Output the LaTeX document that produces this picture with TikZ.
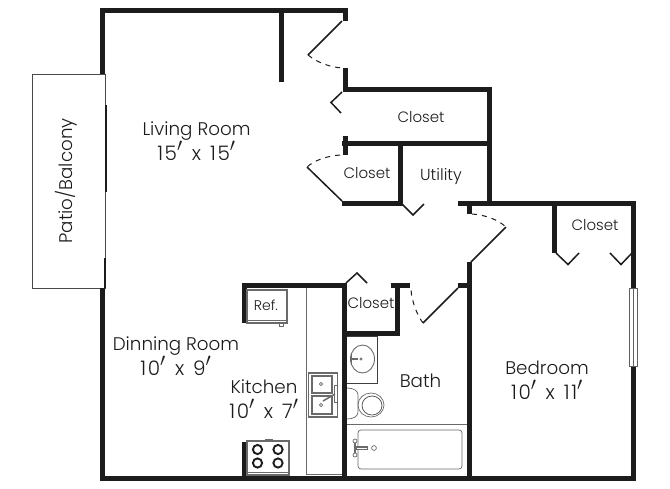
\documentclass[tikz,border=0pt]{standalone}
\usepackage{fontspec}
\usepackage{graphicx}
\setmainfont{Poppins}[UprightFont=* Light]
\definecolor{ink}{HTML}{1C1C1C}
\definecolor{fix}{HTML}{6A6A6A}
\newcommand{\primemark}{\smash{\raisebox{-1.5pt}{\scalebox{1.3}{$'$}}}}
\newcommand{\dimline}[2]{{\fontsize{20}{24.5}\selectfont\addfontfeature{LetterSpace=8}#1\primemark\hspace{9pt}x\hspace{9pt}#2\primemark}}
\tikzset{
  wall/.style={draw=ink,line width=5pt,line cap=butt,line join=miter},
  leaf/.style={draw=ink,line width=1.5pt,line join=miter},
  swing/.style={draw=ink,line width=1pt,dash pattern=on 5pt off 5pt},
  fixture/.style={draw=fix,line width=1.1pt},
  thin/.style={draw=fix,line width=0.7pt},
  lbl/.style={font=\fontsize{18.3}{24.5}\selectfont,text=ink,align=center,inner sep=0pt},
  small/.style={font=\fontsize{15}{18}\selectfont,text=ink,align=center,inner sep=0pt}
}
\begin{document}
\begin{tikzpicture}[x=1pt,y=-1pt]
\useasboundingbox (0,0) rectangle (670,488);
% balcony
\draw[draw=ink!80,line width=1pt] (32,74) rectangle (105,288);
\draw[draw=ink,line width=2pt] (105.5,105) -- (105.5,192);
\draw[draw=ink,line width=1.5pt] (105,258) -- (105,288);
% outer walls
\draw[wall] (102,74) -- (102,10) -- (345,10) -- (345,21);
\draw[wall] (102,288) -- (102,478) -- (636,478);
\draw[wall] (281,10) -- (281,82);
\draw[wall] (345,68) -- (345,89.5) -- (489.5,89.5) -- (489.5,203);
\draw[wall] (345,136) -- (345,155);
\draw[wall] (342,143.5) -- (489.5,143.5);
\draw[wall] (342,203) -- (400,203) -- (400,143.5);
\draw[wall] (458,203) -- (633.5,203) -- (633.5,288);
\draw[wall] (633.5,366) -- (633.5,478);
\draw[wall] (469.5,203) -- (469.5,214);
\draw[wall] (469.5,262) -- (469.5,478);
\draw[wall] (458,285.5) -- (469.5,285.5);
\draw[wall] (554.5,203) -- (554.5,253);
\draw[wall] (391,285.5) -- (410,285.5);
\draw[wall] (397,285.5) -- (397,333.5) -- (344,333.5);
\draw[wall] (242,285.5) -- (347,285.5);
\draw[wall] (344,283) -- (344,478);
\draw[wall] (244.5,283) -- (244.5,323);
\draw[wall] (244.5,442) -- (244.5,476);
% door leaves
\draw[leaf] (342,21) -- (308,55);
\draw[swing] (308,55) .. controls (318,63) and (330,67) .. (342,68);
\draw[leaf] (342,92) -- (331,102.5) -- (341,113);
\draw[swing] (340,155) .. controls (327,156) and (315,160) .. (307,167);
\draw[leaf] (307,167) -- (342,201);
\draw[leaf] (402,204) -- (413,215) -- (424,204);
\draw[swing] (472,214) .. controls (485,215) and (497,219) .. (506,227);
\draw[leaf] (506,227) -- (471,262);
\draw[leaf] (458,288) -- (423,323);
\draw[swing] (423,323) .. controls (417,315) and (412,302) .. (411,290);
\draw[leaf] (346,283) -- (357,273) -- (367,283);
\draw[leaf] (556,253) -- (568,264.5) -- (579,253);
\draw[leaf] (610,253) -- (621,264.5) -- (632,253);
% bedroom window
\fill[white] (629,288) rectangle (637.5,366);
\draw[thin,draw=ink!70] (629.5,288) rectangle (637.5,366);
\draw[thin,draw=ink!70] (633.5,288) -- (633.5,366);
% counter
\draw[thin] (306,288) -- (306,474.5) -- (342,474.5);
% refrigerator
\draw[fixture] (247,290) rectangle (287,323);
\draw[thin] (247,320) -- (287,320);
\draw[thin] (279.5,323) rectangle (283,326);
% stove
\draw[fixture] (247,441) rectangle (289,475);
\draw[thin] (247,472) -- (289,472);
\draw[thin] (265,439.5) rectangle (272,441);
\foreach \cx/\cy in {257.5/449.5,278/449.5,257.5/463,278/463}{
  \draw[draw=ink,line width=1.9pt] (\cx,\cy) circle (4.6pt);
}
% kitchen sink
\draw[fixture] (308.5,373) rectangle (337.5,417);
\draw[fixture] (312,376) rectangle (332,393);
\draw[fixture] (312,396) rectangle (332,414);
\draw[thin] (321,384) circle (1.6pt);
\draw[thin] (321,405) circle (1.6pt);
\draw[thin,fill=white] (334,385) rectangle (337,402);
\draw[draw=fix,line width=1.5pt] (335,394) -- (323,401);
% bath sink
\draw[draw=ink!85,line width=1pt] (347,336) -- (377,336) -- (377,383) -- (347,383);
\draw[draw=fix,line width=.9pt] (362.5,359) ellipse (12pt and 14pt);
\draw[thin] (361,359) circle (1.2pt);
\draw[draw=fix,line width=1.2pt] (351.5,353) -- (351.5,364);
\draw[draw=fix,line width=1.6pt] (351.5,359) -- (358,359);
% toilet
\draw[thin] (347,388) .. controls (354,388) and (358,391) .. (358,395) -- (358,412) .. controls (358,416) and (354,419) .. (347,419);
\draw[thin] (371,405) ellipse (13pt and 12pt);
\draw[draw=ink!80,line width=.7pt] (372,405.5) ellipse (10pt and 9.5pt);
% tub
\draw[thin] (347,424) -- (467,424);
\draw[thin,rounded corners=3pt] (358,430) rectangle (462,469);
\draw[draw=fix,line width=1.2pt] (355,441) -- (355,455);
\draw[draw=fix,line width=3.2pt] (355,448) -- (368,448);
\draw[draw=white,line width=1pt] (357,448) -- (367,448);
\draw[thin,fill=white] (355,441) circle (2pt);
\draw[thin,fill=white] (355,455) circle (2pt);
\draw[thin] (374,448) circle (2.4pt);
% labels
\node[lbl] (living) at (196.5,141) {Living Room\\\dimline{15}{15}};
\node[lbl] (dining) at (176,356) {Dinning Room\\\dimline{10}{9}};
\node[lbl] (kitchen) at (264,399) {Kitchen\\\dimline{10}{7}};
\node[lbl] (bath) at (420.5,380.5) {Bath};
\node[lbl] (bedroom) at (547,380) {Bedroom\\\dimline{10}{11}};
\node[small] (c1) at (421,117) {Closet};
\node[small] (c2) at (367,173) {Closet};
\node[small] (c3) at (371,303) {Closet};
\node[small] (c4) at (595,225) {Closet};
\node[small,font=\fontsize{16}{18}\selectfont] (util) at (441,177) {Utility};
\node[small,font=\fontsize{14}{16}\selectfont] (ref) at (266,305) {Ref.};
\node[lbl,rotate=90] (patio) at (66,181) {Patio/Balcony};
\end{tikzpicture}
\end{document}
